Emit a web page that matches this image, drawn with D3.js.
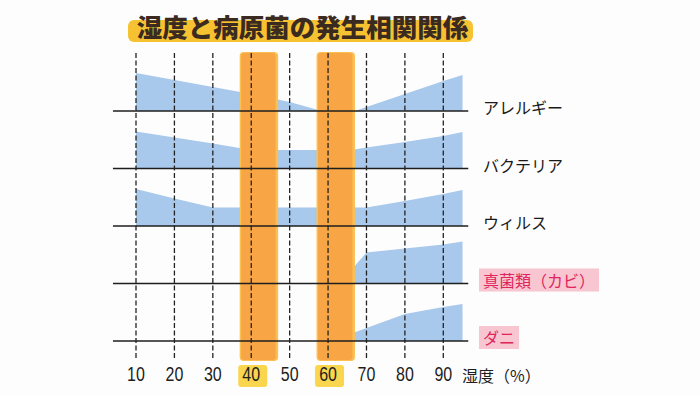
<!DOCTYPE html>
<html>
<head>
<meta charset="utf-8">
<script src="https://cdn.jsdelivr.net/npm/d3@7"></script>
<style>
  html, body { margin: 0; padding: 0; background: #fdfdfd; }
  svg { display: block; }
</style>
</head>
<body>
<div id="chart"></div>
<script>
// data
const title = "湿度と病原菌の発生相関関係";
const categories = ["アレルギー", "バクテリア", "ウィルス", "真菌類（カビ）", "ダニ"];
const warnCategories = ["真菌類（カビ）", "ダニ"];
const humidityTicks = [10, 20, 30, 40, 50, 60, 70, 80, 90];
const axisUnit = "湿度（%）";
const optimalTicks = [40, 60];
const optimalBands = [[37, 47], [57, 67]];

// [湿度, 発生レベル]
const allergy  = [[10, 7.6], [20, 6.2], [30, 4.8], [40, 3.4], [50, 1.8], [57, 0.3], [58, 0], [67, 0], [70, 0.8], [80, 3.4], [90, 6.0], [95, 7.2]];
const bacteria = [[10, 7.4], [20, 6.2], [30, 5.0], [40, 3.7], [66, 3.7], [70, 4.2], [80, 5.3], [90, 6.5], [95, 7.3]];
const virus    = [[10, 7.4], [20, 5.5], [30, 3.7], [70, 3.7], [80, 5.0], [90, 6.4], [95, 7.2]];
const fungi    = [[65, 1.8], [70, 6.2], [80, 7.0], [90, 7.8], [95, 8.4]];
const mites    = [[65, 1.2], [70, 2.6], [80, 5.4], [90, 6.8], [95, 7.4]];
const seriesList = [allergy, bacteria, virus, fungi, mites];

const width = 700, height = 396;

const svg = d3.select("#chart").append("svg")
  .attr("width", width)
  .attr("height", height)
  .attr("viewBox", `0 0 ${width} ${height}`);

const x = d3.scaleLinear().domain([10, 90]).range([136, 443.3]);
const row = d3.scalePoint().domain(categories).range([111, 341]);
const level = d3.scaleLinear().domain([0, 10]).range([0, 50]);

const gridTop = 53, gridBottom = 360;

// タイトル
svg.append("rect")
  .attr("x", 128).attr("y", 20)
  .attr("width", 345).attr("height", 22)
  .attr("rx", 6)
  .attr("fill", "#f6c232");

svg.append("text")
  .attr("x", 302.5).attr("y", 25)
  .attr("text-anchor", "middle")
  .attr("dominant-baseline", "central")
  .attr("font-family", "'Noto Sans CJK JP', sans-serif")
  .attr("font-weight", 900)
  .attr("font-size", 25.5)
  .attr("fill", "#3a2a1f")
  .text(title);

// 発生エリア
const plot = svg.append("g");
seriesList.forEach((data, i) => {
  const base = row(categories[i]);
  const area = d3.area()
    .x(d => x(d[0]))
    .y0(base)
    .y1(d => base - level(d[1]));
  plot.append("path")
    .datum(data)
    .attr("fill", "#a8c8ec")
    .attr("d", area);
});

// 最適湿度の帯
optimalBands.forEach(b => {
  svg.append("rect")
    .attr("x", x(b[0])).attr("y", gridTop - 1)
    .attr("width", x(b[1]) - x(b[0]))
    .attr("height", gridBottom - gridTop + 2)
    .attr("rx", 4)
    .attr("fill", "#fbbf52");
  svg.append("rect")
    .attr("x", x(b[0]) + 1.5).attr("y", gridTop)
    .attr("width", x(b[1]) - x(b[0]) - 4)
    .attr("height", gridBottom - gridTop)
    .attr("rx", 3)
    .attr("fill", "#f8a645");
});

// 横線
svg.append("g").selectAll("line")
  .data(categories)
  .join("line")
  .attr("x1", x(4)).attr("x2", x(96.5))
  .attr("y1", d => row(d)).attr("y2", d => row(d))
  .attr("stroke", "#1e1e1e")
  .attr("stroke-width", 1.6);

// 縦の点線
svg.append("g").selectAll("line")
  .data(humidityTicks)
  .join("line")
  .attr("x1", d => x(d)).attr("x2", d => x(d))
  .attr("y1", gridTop).attr("y2", gridBottom)
  .attr("stroke", "#222")
  .attr("stroke-width", 1.3)
  .attr("stroke-dasharray", "5,2.5");

// 40, 60 のハイライト
svg.append("g").selectAll("rect")
  .data(optimalTicks)
  .join("rect")
  .attr("x", d => x(d) - 13).attr("y", 365)
  .attr("width", 29).attr("height", 22)
  .attr("rx", 3)
  .attr("fill", "#fad54e");

// x軸ラベル
const xAxis = d3.axisBottom(x)
  .tickValues(humidityTicks)
  .tickSize(0)
  .tickPadding(0);

const axisG = svg.append("g")
  .attr("transform", `translate(0, 367)`)
  .call(xAxis);
axisG.select(".domain").remove();
axisG.selectAll("text")
  .attr("dy", "0.71em")
  .attr("y", 0)
  .attr("transform", "scale(0.82,1)")
  .attr("font-family", "'Liberation Sans', Arial, sans-serif")
  .attr("font-size", 19.5)
  .attr("fill", "#1e1e1e");
axisG.selectAll(".tick")
  .attr("transform", d => `translate(${x(d)},0)`);

svg.append("text")
  .attr("x", 462).attr("y", 382)
  .attr("font-family", "'Noto Sans CJK JP', sans-serif")
  .attr("font-size", 16)
  .attr("fill", "#1e1e1e")
  .text(axisUnit);

// 右側のラベル
const labels = svg.append("g");
categories.forEach(c => {
  const warn = warnCategories.includes(c);
  const t = labels.append("text")
    .attr("x", 483).attr("y", row(c) - 4)
    .attr("dominant-baseline", "central")
    .attr("font-family", "'Noto Sans CJK JP', sans-serif")
    .attr("font-size", 16)
    .attr("fill", warn ? "#e0245c" : "#1a1a1a")
    .text(c);
  if (warn) {
    const bb = t.node().getBBox();
    labels.insert("rect", "text")
      .attr("x", bb.x - 4).attr("y", bb.y + 1)
      .attr("width", bb.width + 8).attr("height", bb.height - 1)
      .attr("fill", "#f8c6d0");
  }
});
</script>
</body>
</html>
